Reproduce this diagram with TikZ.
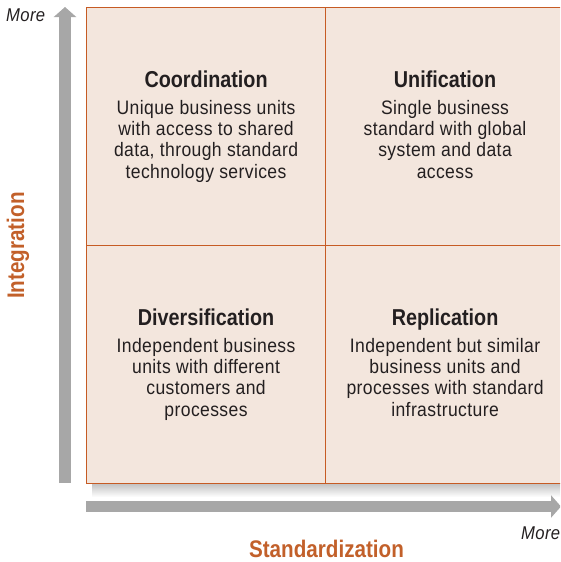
\documentclass[tikz,border=0pt]{standalone}
\usepackage{fontspec}
\setmainfont{Liberation Sans}
\newfontfamily\bodyfont[FakeStretch=0.9, LetterSpace=2]{Liberation Sans}
\newfontfamily\headfont[FakeStretch=0.86]{Liberation Sans}
\usetikzlibrary{arrows.meta, positioning, calc}

\definecolor{cellfill}{HTML}{F3E6DD}
\definecolor{cellline}{HTML}{C65B24}
\definecolor{axisgray}{HTML}{A7A7A7}
\definecolor{labelorange}{HTML}{C2602A}
\definecolor{inkgray}{HTML}{231F20}

\tikzset{
  cell/.style={draw=cellline, fill=cellfill, line width=1.1pt, minimum width=239pt, minimum height=238pt, inner sep=0pt, anchor=north west},
  headtext/.style={anchor=base, inner sep=0pt, text=inkgray, font=\headfont\bfseries\fontsize{23}{26}\selectfont},
  bodytext/.style={anchor=base, inner sep=0pt, align=center, text=inkgray, font=\bodyfont\fontsize{19.5}{21.3}\selectfont},
  axis/.style={draw=axisgray, line width=11.5pt, -{Triangle[width=22pt, length=10pt]}},
  axislabel/.style={anchor=base, inner sep=0pt, text=labelorange, font=\headfont\bfseries\fontsize{24}{28}\selectfont},
  moretext/.style={anchor=base west, inner sep=0pt, text=inkgray, font=\bodyfont\itshape\fontsize{18.5}{22}\selectfont}
}

\begin{document}
\begin{tikzpicture}[x=1pt, y=-1pt]
  \useasboundingbox (0,0) rectangle (560,562);
  \clip (0,0) rectangle (560,562);

  % Shadow under the grid
  \shade[top color=black!25, bottom color=white] (92,483) rectangle (564,497);

  % Quadrants
  \node[cell] (coord) at (86,7) {};
  \node[cell] (unif) at (325,7) {};
  \node[cell] (div) at (86,245) {};
  \node[cell] (repl) at (325,245) {};

  % Titles
  \node[headtext] (coordT) at ([yshift=-80pt]coord.north) {Coordination};
  \node[headtext] (unifT) at ([yshift=-80pt]unif.north) {Unification};
  \node[headtext] (divT) at ([yshift=-80pt]div.north) {Diversification};
  \node[headtext] (replT) at ([yshift=-80pt]repl.north) {Replication};

  % Descriptions (base = last line)
  \node[bodytext] (coordB) at ([yshift=-171pt]coord.north) {Unique business units\\with access to shared\\data, through standard\\technology services};
  \node[bodytext] (unifB) at ([yshift=-171pt]unif.north) {Single business\\standard with global\\system and data\\access};
  \node[bodytext] (divB) at ([yshift=-171pt]div.north) {Independent business\\units with different\\customers and\\processes};
  \node[bodytext] (replB) at ([yshift=-171pt]repl.north) {Independent but similar\\business units and\\processes with standard\\infrastructure};

  % Axes
  \coordinate (ybot) at (65,483);
  \coordinate (ytop) at (65,7);
  \coordinate (xleft) at (86,506.5);
  \coordinate (xright) at (561,506.5);
  \draw[axis] (ybot) -- (ytop);
  \draw[axis] (xleft) -- (xright);

  % Axis labels
  \node[axislabel, rotate=90] (intLab) at (24,245.5) {Integration};
  \node[axislabel] (stdLab) at (326.5,557) {Standardization};
  \node[moretext] (yMore) at (6,21) {More};
  \node[moretext] (xMore) at (521,539) {More};
\end{tikzpicture}
\end{document}
